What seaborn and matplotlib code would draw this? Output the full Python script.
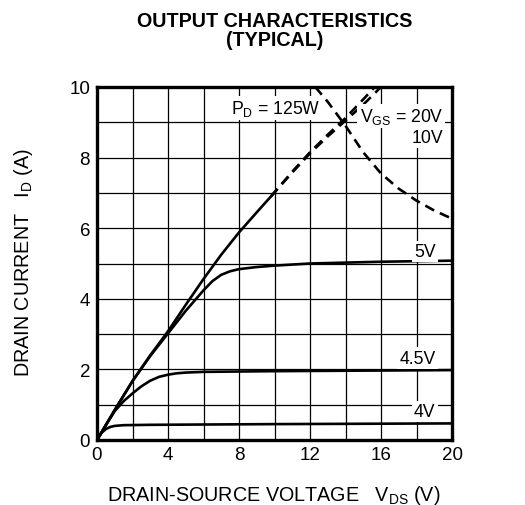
import matplotlib
matplotlib.use("Agg")
import matplotlib.pyplot as plt
import seaborn as sns

# VGS = 20V / 10V, shared solid part
v_hi = [0, 1, 2, 3, 4, 5, 6, 7, 8, 9, 9.8]
i_hi = [0, 0.85, 1.67, 2.4, 3.08, 3.83, 4.56, 5.25, 5.88, 6.45, 6.9]

# dashed continuation
v_20 = [9.8, 11, 12, 13, 14, 15, 15.65]
i_20 = [6.9, 7.6, 8.15, 8.65, 9.12, 9.65, 10]
v_10 = [9.8, 11, 12, 13, 14, 15, 16.0]
i_10 = [6.9, 7.58, 8.12, 8.6, 9.05, 9.5, 10]

# power limit PD = 125W
v_pd = [12.3, 13, 14, 15, 16, 17, 18, 19, 20]
i_pd = [10, 9.58, 8.9, 8.15, 7.55, 7.12, 6.78, 6.5, 6.27]

v_5 = [0, 1, 2, 3, 4, 5, 6, 6.5, 7, 7.5, 8, 9, 10, 12, 16, 20]
i_5 = [0, 0.85, 1.67, 2.38, 3.02, 3.66, 4.24, 4.5, 4.68, 4.78, 4.84, 4.9, 4.94, 5.0, 5.05, 5.08]

v_45 = [0, 0.5, 1, 1.5, 2, 2.5, 3, 3.5, 4, 4.5, 5, 6, 10, 20]
i_45 = [0, 0.42, 0.82, 1.1, 1.32, 1.52, 1.68, 1.79, 1.85, 1.89, 1.91, 1.93, 1.95, 1.98]

v_4 = [0, 0.25, 0.5, 0.75, 1, 1.5, 3, 10, 20]
i_4 = [0, 0.2, 0.31, 0.37, 0.4, 0.42, 0.43, 0.45, 0.47]

x_ticks = [0, 4, 8, 12, 16, 20]
y_ticks = [0, 2, 4, 6, 8, 10]

sns.set_style("white")
plt.rcParams['font.family'] = ['Liberation Sans', 'DejaVu Sans']
plt.rcParams['mathtext.fontset'] = 'custom'
plt.rcParams['mathtext.rm'] = 'Liberation Sans'
plt.rcParams['text.color'] = 'black'
plt.rcParams['xtick.color'] = 'black'
plt.rcParams['ytick.color'] = 'black'

fig = plt.figure(figsize=(5.25, 5.06), dpi=100)
ax = fig.add_axes([97 / 525, 1 - 441 / 506, 355 / 525, 353 / 506])

solid = dict(color='black', linewidth=1.9, sort=False, estimator=None, ax=ax, zorder=4)
dash = dict(color='black', linewidth=1.9, sort=False, estimator=None, ax=ax, zorder=4,
            linestyle=(0, (3.8, 2.4)))

sns.lineplot(x=v_hi, y=i_hi, **solid)
sns.lineplot(x=v_5, y=i_5, **solid)
sns.lineplot(x=v_45, y=i_45, **solid)
sns.lineplot(x=v_4, y=i_4, **solid)
sns.lineplot(x=v_20, y=i_20, **dash)
sns.lineplot(x=v_10, y=i_10, **dash)
sns.lineplot(x=v_pd, y=i_pd, **dash)

ax.set_xlim(0, 20)
ax.set_ylim(0, 10)
ax.set_xticks(x_ticks)
ax.set_yticks(y_ticks)
ax.set_xticks(range(0, 21, 2), minor=True)
ax.set_yticks(range(0, 11), minor=True)
ax.grid(True, which='both', color='black', linewidth=0.9, zorder=1)
ax.set_axisbelow(True)
ax.tick_params(which='both', length=0, labelsize=13.5)
ax.tick_params(axis='x', pad=4)
ax.tick_params(axis='y', pad=5)
for s in ax.spines.values():
    s.set_linewidth(2.4)
    s.set_color('black')
    s.set_zorder(6)
ax.set_xlabel('')
ax.set_ylabel('')

box = dict(facecolor='white', edgecolor='none', pad=1.5)
fs = 12.7
ax.text(10.05, 9.4, r'P$_\mathregular{D}$ = 125W', fontsize=fs, ha='center', va='center',
        bbox=box, zorder=5)
ax.text(19.5, 9.17, r'V$_\mathregular{GS}$ = 20V', fontsize=fs, ha='right', va='center',
        bbox=box, zorder=5)
ax.text(19.5, 8.56, '10V', fontsize=fs, ha='right', va='center', bbox=box, zorder=5)
ax.text(19.07, 5.35, '5V', fontsize=fs, ha='right', va='center', bbox=box, zorder=5)
ax.text(19.07, 2.32, '4.5V', fontsize=fs, ha='right', va='center', bbox=box, zorder=5)
ax.text(19.07, 0.81, '4V', fontsize=fs, ha='right', va='center', bbox=box, zorder=5)

fig.text(274.5 / 525, 1 - 31 / 506, 'OUTPUT CHARACTERISTICS\n(TYPICAL)', fontsize=14.2,
         fontweight='bold', ha='center', va='center', linespacing=1.0)
fig.text(24 / 525, 1 - 263 / 506, r'DRAIN CURRENT   I$_\mathregular{D}$ (A)', fontsize=14.2,
         rotation=90, ha='center', va='center')
fig.text(274 / 525, 5 / 506, r'DRAIN-SOURCE VOLTAGE   V$_\mathregular{DS}$ (V)', fontsize=14.2,
         ha='center', va='baseline')

fig.savefig('out.png', dpi=100)
